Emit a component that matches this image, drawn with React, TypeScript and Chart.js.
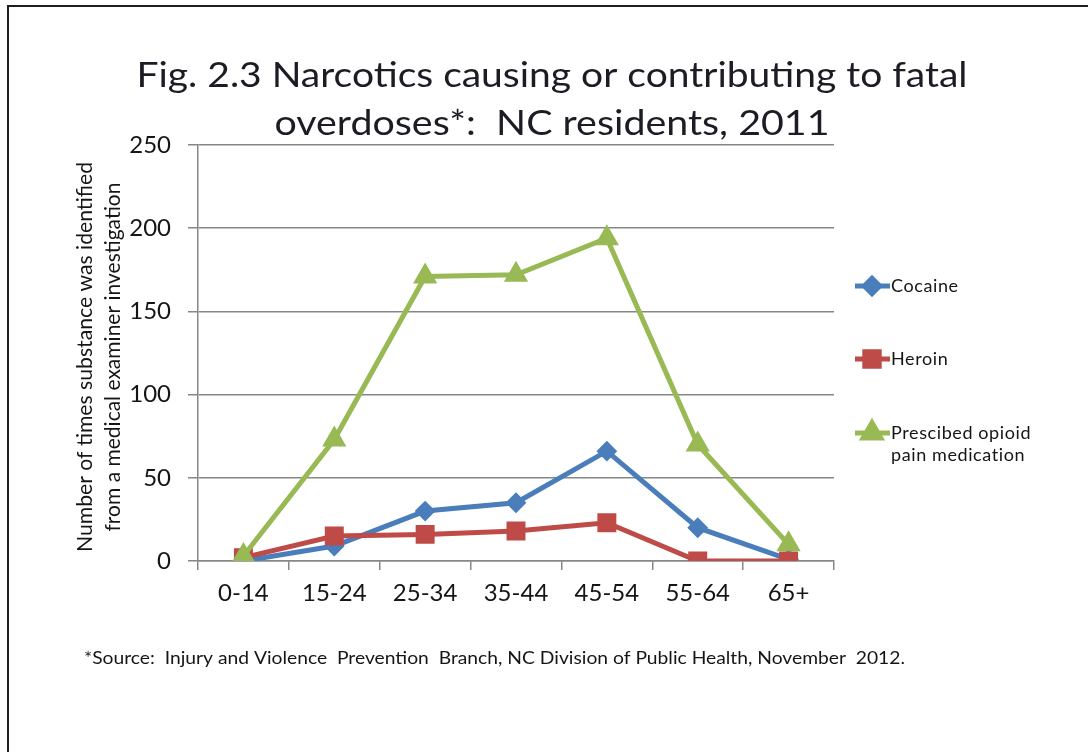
import React, { useEffect, useRef } from "react";
import { Chart, registerables } from "chart.js";
import { drawPoint } from "chart.js/helpers";

Chart.register(...registerables);

const categories = ["0-14", "15-24", "25-34", "35-44", "45-54", "55-64", "65+"];
const cocaine = [0, 9, 30, 35, 66, 20, 1];
const heroin = [2, 15, 16, 18, 23, 0, 0];
const prescribed = [3, 73, 171, 172, 194, 70, 10];
const yTicks = [0, 50, 100, 150, 200, 250];

const seriesNames = ["Cocaine", "Heroin", "Prescibed opioid\npain medication"];
const titleLines = [
  "Fig. 2.3 Narcotics causing or contributing to fatal",
  "overdoses*:  NC residents, 2011",
];
const yTitleLines = [
  "Number of times substance was identified",
  "from a medical examiner investigation",
];
const footnote =
  "*Source:  Injury and Violence  Prevention  Branch, NC Division of Public Health, November  2012.";

const FONT = "Lato, 'Open Sans', sans-serif";
const GRID = "#878787";
const TEXT = "#151515";

// draw text stretched/compressed horizontally to an exact width
function fillFit(
  ctx: CanvasRenderingContext2D,
  text: string,
  x: number,
  y: number,
  width: number,
  align: "left" | "center"
) {
  const w = ctx.measureText(text).width;
  const k = width / w;
  ctx.save();
  ctx.textAlign = "left";
  const left = align === "center" ? x - width / 2 : x;
  ctx.translate(left, y);
  ctx.scale(k, 1);
  ctx.fillText(text, 0, 0);
  ctx.restore();
}

const textPlugin = {
  id: "textPlugin",
  afterDraw(chart: any) {
    const ctx = chart.ctx as CanvasRenderingContext2D;
    ctx.save();
    ctx.fillStyle = "#1c1c24";
    ctx.textBaseline = "alphabetic";
    // Title
    ctx.font = `35px ${FONT}`;
    fillFit(ctx, titleLines[0], 552, 87, 831, "center");
    fillFit(ctx, titleLines[1], 552, 135, 555, "center");

    // Y axis title (two lines, rotated)
    ctx.font = `21px ${FONT}`;
    ctx.fillStyle = TEXT;
    ctx.save();
    ctx.translate(92, 357);
    ctx.rotate(-Math.PI / 2);
    fillFit(ctx, yTitleLines[0], 0, 0, 390, "center");
    ctx.restore();
    ctx.save();
    ctx.translate(120, 357);
    ctx.rotate(-Math.PI / 2);
    fillFit(ctx, yTitleLines[1], 0, 0, 349, "center");
    ctx.restore();

    // Footnote
    ctx.font = `17px ${FONT}`;
    fillFit(ctx, footnote, 84, 664, 821, "left");

    // Legend
    const legendY = [286, 359, 433];
    chart.data.datasets.forEach((ds: any, i: number) => {
      const y = legendY[i];
      ctx.strokeStyle = ds.borderColor;
      ctx.lineWidth = 5;
      ctx.beginPath();
      ctx.moveTo(855, y);
      ctx.lineTo(890, y);
      ctx.stroke();
      ctx.fillStyle = ds.pointBackgroundColor;
      ctx.strokeStyle = ds.borderColor;
      drawPoint(
        ctx,
        {
          pointStyle: ds.pointStyle,
          radius: ds.pointRadius * 0.85,
          rotation: 0,
          borderWidth: 1,
        } as any,
        872,
        y
      );
      ctx.fillStyle = TEXT;
      ctx.font = `18px ${FONT}`;
      (ctx as any).letterSpacing = "0.6px";
      ctx.textAlign = "left";
      ctx.textBaseline = "middle";
      String(ds.label)
        .split("\n")
        .forEach((line: string, j: number) => {
          ctx.fillText(line, 891, y + j * 22);
        });
      (ctx as any).letterSpacing = "0px";
    });
    ctx.restore();
  },
};

export default function App() {
  const canvasRef = useRef<HTMLCanvasElement | null>(null);

  useEffect(() => {
    document.body.style.margin = "0";
    const canvas = canvasRef.current;
    if (!canvas) return;
    const mk = (
      label: string,
      data: number[],
      color: string,
      pointStyle: string,
      radius: number,
      order: number
    ) => ({
      label,
      data,
      borderColor: color,
      backgroundColor: color,
      pointBackgroundColor: color,
      pointBorderColor: color,
      borderWidth: 5,
      pointStyle,
      pointRadius: radius,
      pointBorderWidth: 2,
      tension: 0,
      order,
    });
    const chart = new Chart(canvas, {
      type: "line",
      data: {
        labels: categories,
        datasets: [
          mk(seriesNames[0], cocaine, "#4A7EBB", "rectRot", 9, 3),
          mk(seriesNames[1], heroin, "#BE4B48", "rect", 12, 2),
          mk(seriesNames[2], prescribed, "#98B954", "triangle", 12, 1),
        ] as any,
      },
      options: {
        animation: false,
        responsive: false,
        devicePixelRatio: 1,
        layout: { padding: { left: 98, right: 254, top: 145, bottom: 141 } },
        plugins: {
          legend: { display: false },
          title: { display: false },
          tooltip: { enabled: false },
        },
        scales: {
          x: {
            type: "category",
            offset: true,
            grid: {
              offset: true,
              drawOnChartArea: false,
              drawTicks: true,
              tickLength: 9,
              color: GRID,
              lineWidth: 1.5,
            },
            border: { color: GRID, width: 1.5 },
            ticks: {
              font: { family: FONT, size: 24 },
              color: TEXT,
              padding: 9,
              maxRotation: 0,
              autoSkip: false,
            },
            afterFit: (s: any) => {
              s.height = 50;
            },
          },
          y: {
            min: 0,
            max: 250,
            afterBuildTicks: (s: any) => {
              s.ticks = yTicks.map((v) => ({ value: v }));
            },
            grid: { color: GRID, lineWidth: 1.5, tickLength: 10 },
            border: { color: GRID, width: 1.5 },
            ticks: {
              font: { family: FONT, size: 24 },
              color: TEXT,
              padding: 17,
            },
            afterFit: (s: any) => {
              s.width = 100;
            },
          },
        },
      } as any,
      plugins: [textPlugin],
    });
    return () => chart.destroy();
  }, []);

  return (
    <div
      style={{
        position: "relative",
        width: 1088,
        height: 752,
        overflow: "hidden",
        background: "#fff",
      }}
    >
      <canvas
        ref={canvasRef}
        width={1088}
        height={752}
        style={{ position: "absolute", left: 0, top: 0, display: "block" }}
      />
      <div
        style={{
          position: "absolute",
          left: 7,
          top: 5,
          width: 1200,
          height: 900,
          borderLeft: "2px solid #1e1e1e",
          borderTop: "2px solid #1e1e1e",
          pointerEvents: "none",
        }}
      />
    </div>
  );
}
